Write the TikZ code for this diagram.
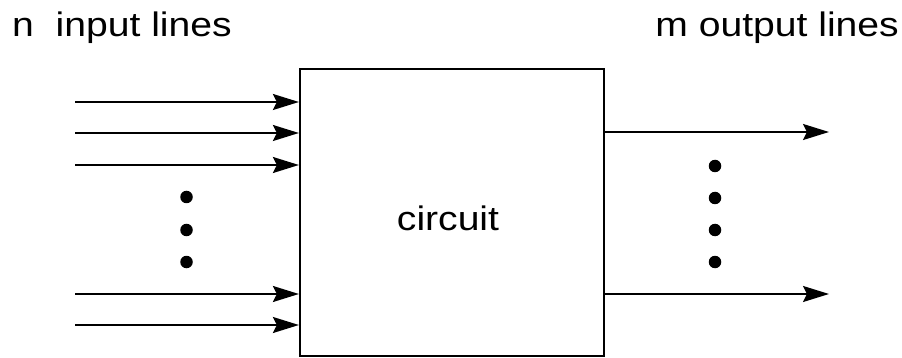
\documentclass[tikz,border=0pt]{standalone}
\usepackage{fontspec}
\setmainfont{Liberation Sans}
\usetikzlibrary{arrows.meta}
\begin{document}
\begin{tikzpicture}[x=1pt,y=-1pt,
  wire/.style={line width=2pt,-{Stealth[length=26pt,width=16pt,inset=4pt]}},
  dotmark/.style={circle,fill=black,inner sep=0pt,minimum size=12.5pt},
  lbl/.style={inner sep=0pt,font=\fontsize{34}{40}\selectfont}]
\useasboundingbox (0,0) rectangle (902,358);
\node[draw,line width=2.2pt,minimum width=304pt,minimum height=287pt,inner sep=0pt,
  font=\fontsize{34}{40}\selectfont] (circuit) at (452,212.5) {};
\node[lbl,anchor=base] (ctext) at (448,230) {\scalebox{1.15}[1]{circuit}};
\node[lbl,anchor=base west] (nin) at (12,37) {\scalebox{1.15}[1]{n\ \ input lines}};
\node[lbl,anchor=base east] (mout) at (899,37) {\scalebox{1.15}[1]{m output lines}};
\foreach \i/\y in {1/102,2/133,3/165,4/294,5/325}{
  \coordinate (in\i) at (75,\y);
  \draw[wire] (in\i) -- (in\i -| circuit.west);
}
\foreach \i/\y in {1/132,2/294}{
  \coordinate (out\i) at (829,\y);
  \draw[wire] (out\i -| circuit.east) -- (out\i);
}
\foreach \i/\y in {1/197,2/230,3/262}{
  \node[dotmark] (ld\i) at (186.5,\y) {};
}
\foreach \i/\y in {1/166,2/198,3/230,4/262}{
  \node[dotmark] (rd\i) at (715,\y) {};
}
\end{tikzpicture}
\end{document}
